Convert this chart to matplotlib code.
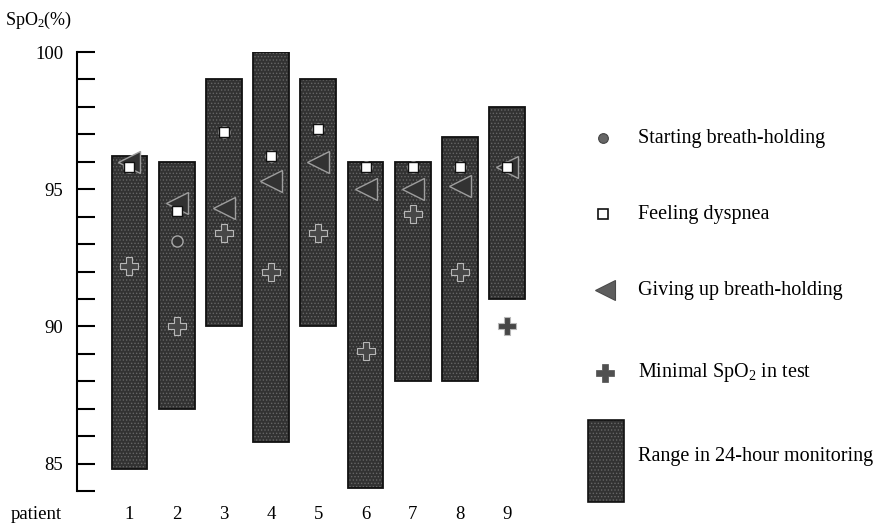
import matplotlib.pyplot as plt
from matplotlib.patches import Rectangle
from matplotlib.ticker import MultipleLocator

plt.rcParams['font.family'] = ['Liberation Serif', 'DejaVu Serif']
plt.rcParams['mathtext.fontset'] = 'custom'
plt.rcParams['mathtext.rm'] = 'Liberation Serif'
plt.rcParams['mathtext.it'] = 'Liberation Serif'
plt.rcParams['hatch.linewidth'] = 0.6

# SpO2 values per patient
patients = [1, 2, 3, 4, 5, 6, 7, 8, 9]
range_low = [84.8, 87.0, 90.0, 85.8, 90.0, 84.1, 88.0, 88.0, 91.0]
range_high = [96.2, 96.0, 99.0, 100.0, 99.0, 96.0, 96.0, 96.9, 98.0]
starting = [95.8, 93.1, 97.1, 96.2, 97.2, 95.8, 95.8, 95.8, 95.8]
dyspnea = [95.8, 94.2, 97.1, 96.2, 97.2, 95.8, 95.8, 95.8, 95.8]
giving_up = [96.0, 94.5, 94.3, 95.3, 96.0, 95.0, 95.0, 95.1, 95.8]
minimal = [92.2, 90.0, 93.4, 92.0, 93.4, 89.1, 94.1, 92.0, 90.0]

bar_face = '#323232'
grain = '#666666'

fig = plt.figure(figsize=(8.88, 5.27), dpi=100)
ax = fig.add_axes([0.0867, 0.0683, 0.544, 0.833])

heights = [h - l for h, l in zip(range_high, range_low)]
ax.bar(patients, heights, bottom=range_low, width=0.76, color=bar_face,
       edgecolor=grain, hatch='.....', linewidth=0, zorder=2)
ax.bar(patients, heights, bottom=range_low, width=0.76, fill=False,
       edgecolor='#111111', linewidth=1.3, zorder=3)

ax.plot(patients, starting, 'o', ms=8, mfc=bar_face, mec='#a8a8a8', mew=1.0,
        zorder=4, clip_on=False)
ax.plot(patients, giving_up, '<', ms=16, mfc=bar_face, mec='#9e9e9e', mew=1.0,
        zorder=4, clip_on=False)
ax.plot(patients, minimal, 'P', ms=13, mfc='#474747', mec='#b8b8b8', mew=0.8,
        zorder=5, clip_on=False)
ax.plot(patients, dyspnea, 's', ms=7, mfc='white', mec='#111111', mew=1.0,
        zorder=6, clip_on=False)

ax.set_xlim(-0.112, 10.12)
ax.set_ylim(84, 100)
ax.yaxis.set_major_locator(MultipleLocator(5))
ax.yaxis.set_minor_locator(MultipleLocator(1))
ax.tick_params(axis='y', which='both', direction='in', length=13, width=1.5,
               pad=10, labelsize=13.5)
ax.set_xticks(patients)
ax.tick_params(axis='x', length=0, pad=11, labelsize=13.5)
for side in ['top', 'right', 'bottom']:
    ax.spines[side].set_visible(False)
ax.spines['left'].set_linewidth(1.5)

fig.text(0.006, 0.962, 'SpO$_2$(%)', fontsize=13, va='center', ha='left')
fig.text(0.012, 0.024, 'patient', fontsize=13.5, va='center', ha='left')

# legend drawn on an overlay in pixel units
lax = fig.add_axes([0, 0, 1, 1])
lax.set_xlim(0, 888)
lax.set_ylim(527, 0)
lax.axis('off')
lax.plot(603, 138, 'o', ms=7, mfc='#666666', mec='#444444', mew=0.8)
lax.plot(603, 214, 's', ms=7, mfc='white', mec='#111111', mew=1.2)
lax.plot(605, 290, '<', ms=14, mfc='#5e5e5e', mec='#4a4a4a', mew=0.8)
lax.plot(605, 373, 'P', ms=13, mfc='#505050', mec='#505050', mew=0.5)
lax.add_patch(Rectangle((588, 420), 36, 82, facecolor=bar_face,
                        edgecolor=grain, hatch='.....', linewidth=0))
lax.add_patch(Rectangle((588, 420), 36, 82, fill=False,
                        edgecolor='#111111', linewidth=1.2))
legend_rows = [(138, 'Starting breath-holding'),
               (214, 'Feeling dyspnea'),
               (290, 'Giving up breath-holding'),
               (373, 'Minimal SpO$_2$ in test'),
               (457, 'Range in 24-hour monitoring')]
for y, label in legend_rows:
    lax.text(638, y, label, fontsize=14.5, va='center', ha='left')

fig.savefig('out.png', dpi=100)
